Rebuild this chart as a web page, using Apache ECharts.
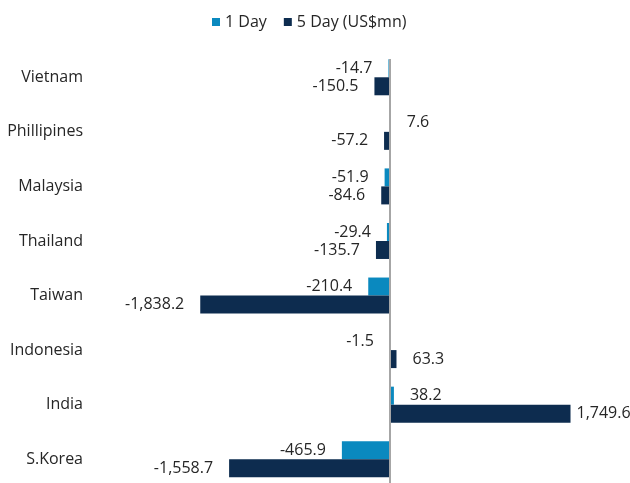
<!DOCTYPE html>
<html>
<head>
<meta charset="utf-8">
<script src="https://cdn.jsdelivr.net/npm/echarts@6/dist/echarts.min.js"></script>
<style>
html,body{margin:0;padding:0;background:#fff;overflow:hidden;}
#chart{width:630px;height:492px;}
</style>
</head>
<body>
<div id="chart"></div>
<script>
const categories = ['Vietnam', 'Phillipines', 'Malaysia', 'Thailand', 'Taiwan', 'Indonesia', 'India', 'S.Korea'];
const oneDay = [-14.7, 7.6, -51.9, -29.4, -210.4, -1.5, 38.2, -465.9];
const fiveDay = [-150.5, -57.2, -84.6, -135.7, -1838.2, 63.3, 1749.6, -1558.7];
const seriesNames = ['1 Day', '5 Day (US$mn)'];

const FONT = '"Open Sans", "Noto Sans", sans-serif';
const fmt = v => v.toLocaleString('en-US', {minimumFractionDigits: 1, maximumFractionDigits: 1});
function toItems(arr) {
  return arr.map(v => ({
    value: v,
    label: {
      position: v < 0 ? 'left' : 'right',
      distance: v > 1500 ? 6 : 16
    }
  }));
}

const chart = echarts.init(document.getElementById('chart'), null, {renderer: 'canvas'});
chart.setOption({
  animation: false,
  legend: {
    top: 9,
    left: 207,
    itemWidth: 8,
    itemHeight: 8,
    itemGap: 17,
    icon: 'rect',
    textStyle: {fontFamily: FONT, fontSize: 16, color: '#262626'},
    data: seriesNames
  },
  grid: {left: 101, top: 50, width: 516, height: 436.5, containLabel: false},
  xAxis: {
    type: 'value',
    min: -2800,
    max: 2200,
    show: false,
    splitLine: {show: false}
  },
  yAxis: {
    type: 'category',
    data: categories,
    inverse: true,
    axisLine: {show: false},
    axisTick: {show: false},
    axisLabel: {fontFamily: FONT, fontSize: 16, color: '#262626', margin: 18}
  },
  series: [
    {
      name: seriesNames[0],
      type: 'bar',
      data: toItems(oneDay),
      barWidth: 18,
      barGap: '0%',
      itemStyle: {color: '#0a89bf'},
      label: {show: true, fontFamily: FONT, fontSize: 16, color: '#262626', formatter: p => fmt(p.value)},
      markLine: {
        silent: true,
        symbol: 'none',
        label: {show: false},
        lineStyle: {color: '#a6a6a6', width: 2, type: 'solid'},
        data: [[
          {xAxis: 0, yAxis: categories[0], y: 59},
          {xAxis: 0, yAxis: categories[categories.length - 1], y: 490}
        ]]
      }
    },
    {
      name: seriesNames[1],
      type: 'bar',
      data: toItems(fiveDay),
      barWidth: 18,
      barGap: '0%',
      itemStyle: {color: '#0d2c4f'},
      label: {show: true, fontFamily: FONT, fontSize: 16, color: '#262626', formatter: p => fmt(p.value)}
    }
  ]
});
</script>
</body>
</html>
